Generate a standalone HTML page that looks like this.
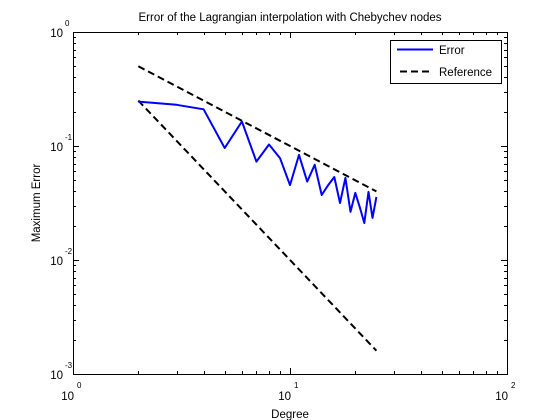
<!DOCTYPE html>
<html><head><meta charset="utf-8"><style>
body{margin:0;background:#fff;width:560px;height:420px;overflow:hidden}
svg{display:block;font-family:"Liberation Sans",sans-serif}
</style></head><body>
<svg id="chart" width="560" height="420" viewBox="0 0 560 420" xmlns="http://www.w3.org/2000/svg">
<rect width="560" height="420" fill="#fff"/>
<text x="290" y="21" font-size="11.5" text-anchor="middle">Error of the Lagrangian interpolation with Chebychev nodes</text>
<text x="290" y="418" font-size="11.5" text-anchor="middle">Degree</text>
<text transform="translate(40,203) rotate(-90)" font-size="11.5" text-anchor="middle">Maximum Error</text>
<g id="grid"></g>
<g id="marks"></g>
<g>
<rect x="390.5" y="40.5" width="111" height="43" fill="#fff" stroke="#000" stroke-width="1"/>
<line x1="397" y1="49.5" x2="433" y2="49.5" stroke="#0000ff" stroke-width="2"/>
<text x="439" y="54" font-size="11.5">Error</text>
<line x1="400" y1="71.5" x2="433" y2="71.5" stroke="#000" stroke-width="2" stroke-dasharray="7,4"/>
<text x="439" y="76" font-size="11.5">Reference</text>
</g>
</svg>
<script>
const degrees=[2,3,4,5,6,7,8,9,10,11,12,13,14,15,16,17,18,19,20,21,22,23,24,25];
const errorValues=[0.245,0.23,0.21,0.096,0.164,0.073,0.103,0.078,0.0454,0.0835,0.0487,0.0684,0.0372,0.0454,0.0535,0.0316,0.0525,0.0264,0.0388,0.0288,0.0211,0.0396,0.0234,0.0358];
const refDegrees=[2,25];
const refUpper=[0.5,0.04];
const refLower=[0.25,0.0016];
const xTickExps=[0,1,2];
const yTickExps=[0,-1,-2,-3];

const L=73,R=507,T=32,B=374;
const xs=v=>L+(R-L)*(Math.log10(v)-0)/2;
const ys=v=>T+(B-T)*(0-Math.log10(v))/3;
const NS="http://www.w3.org/2000/svg";
const grid=document.getElementById('grid'),marks=document.getElementById('marks');
function mk(tag,attrs,parent){const e=document.createElementNS(NS,tag);for(const k in attrs)e.setAttribute(k,attrs[k]);parent.appendChild(e);return e;}

const box=mk('rect',{x:L+0.5,y:T+0.5,width:R-L,height:B-T,fill:'none',stroke:'#000','stroke-width':1},grid);



for(let d=0;d<2;d++){for(let m=1;m<=10;m++){const v=m*Math.pow(10,d);const x=Math.round(xs(v))+0.5;const len=(m===1||m===10)?6:3;
 const t1=mk('line',{x1:x,y1:B,x2:x,y2:B-len,stroke:'#000'},grid);
 
 
 const t2=mk('line',{x1:x,y1:T,x2:x,y2:T+len,stroke:'#000'},grid);
 
 }}
for(let d=-3;d<0;d++){for(let m=1;m<=10;m++){const v=m*Math.pow(10,d);const y=Math.round(ys(v))+0.5;const len=(m===1||m===10)?6:3;
 const t1=mk('line',{x1:L,y1:y,x2:L+len,y2:y,stroke:'#000'},grid);
 
 
 const t2=mk('line',{x1:R,y1:y,x2:R-len,y2:y,stroke:'#000'},grid);
 
 }}

xTickExps.forEach(e=>{const x=xs(Math.pow(10,e));
 const t=mk('text',{x:x+1,y:B+26,'font-size':11.5,'text-anchor':'end'},grid);t.textContent='10';
 
 
 const s=mk('text',{x:x+4,y:B+14,'font-size':8},grid);s.textContent=String(e);
 
 });
yTickExps.forEach(e=>{const y=ys(Math.pow(10,e));
 const t=mk('text',{x:L-10,y:y+5,'font-size':11.5,'text-anchor':'end'},grid);t.textContent='10';
 
 
 const s=mk('text',{x:L-8,y:y-6,'font-size':8},grid);s.textContent=String(e);
 
 });

function pts(xa,ya){return xa.map((d,i)=>xs(d).toFixed(1)+','+ys(ya[i]).toFixed(1)).join(' ');}
const up=mk('polyline',{points:pts(refDegrees,refUpper),fill:'none',stroke:'#000','stroke-width':2,'stroke-dasharray':'7,4'},marks);


const lo=mk('polyline',{points:pts(refDegrees,refLower),fill:'none',stroke:'#000','stroke-width':2,'stroke-dasharray':'7,4'},marks);


const er=mk('polyline',{points:pts(degrees,errorValues),fill:'none',stroke:'#0000ff','stroke-width':2,'stroke-linejoin':'round'},marks);


</script>
</body></html>
